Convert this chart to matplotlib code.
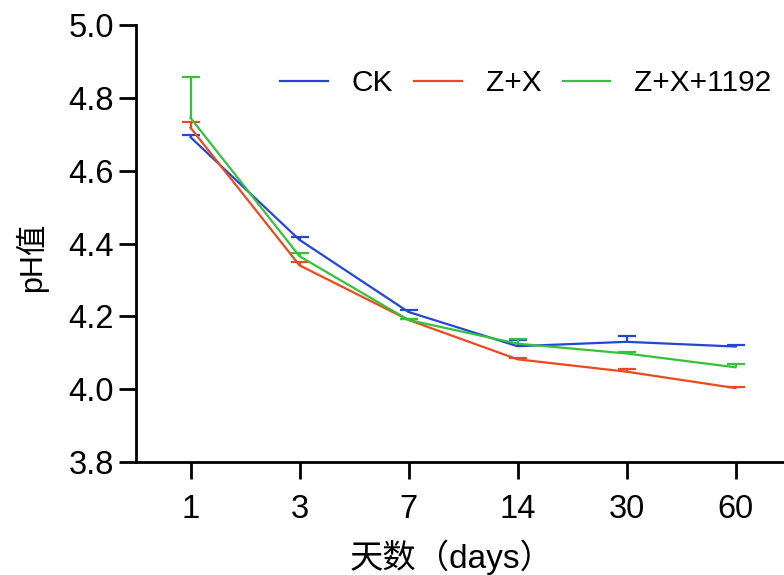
import numpy as np
import matplotlib as mpl
mpl.use('Agg')
from matplotlib import pyplot as plt

days = ['1', '3', '7', '14', '30', '60']
ck = [4.692, 4.410, 4.212, 4.118, 4.130, 4.117]
ck_err = [0.006, 0.007, 0.005, 0.018, 0.016, 0.004]
zx = [4.718, 4.340, 4.190, 4.082, 4.048, 4.003]
zx_err = [0.016, 0.008, 0.004, 0.004, 0.007, 0.004]
zx1192 = [4.745, 4.365, 4.190, 4.125, 4.098, 4.060]
zx1192_err = [0.112, 0.008, 0.004, 0.012, 0.003, 0.008]

mpl.rcParams['font.family'] = ['Liberation Sans', 'Noto Sans CJK SC', 'DejaVu Sans']

fig = plt.figure(figsize=(7.84, 5.75), dpi=100)
ax = fig.add_axes([136 / 784, 1 - 462 / 575, 654 / 784, 437 / 575])

x = np.arange(len(days))
series = [
	('CK', ck, ck_err, '#2446d6'),
	('Z+X', zx, zx_err, '#ea4a1e'),
	('Z+X+1192', zx1192, zx1192_err, '#36c238'),
]
for name, vals, errs, col in series:
	vals = np.array(vals)
	top = vals + np.array(errs)
	ax.plot(x, vals, color=col, lw=1.6, label=name)
	# only the upper half of each error bar, as in the source figure
	ax.vlines(x, vals, top, color=col, lw=1.6)
	ax.plot(x, top, ls='none', marker='_', ms=13, mew=1.6, color=col)

ax.set_xlim(-0.5, 5.5)
ax.set_ylim(3.8, 5.0)
ax.set_xticks(x)
ax.set_xticklabels(days)
ax.set_yticks(np.arange(3.8, 5.01, 0.2))
ax.yaxis.set_major_formatter(mpl.ticker.FormatStrFormatter('%.1f'))

for s in ['top', 'right']:
	ax.spines[s].set_visible(False)
for s in ['left', 'bottom']:
	ax.spines[s].set_linewidth(2)
ax.tick_params(axis='both', which='major', direction='out', length=12, width=2,
			   labelsize=23.5)
ax.tick_params(axis='y', pad=4)
ax.tick_params(axis='x', pad=11)

ax.set_ylabel('pH值', fontsize=22)
ax.yaxis.set_label_coords(-0.134, 0.469)
ax.set_xlabel('天数（days）', fontsize=24)
ax.xaxis.set_label_coords(0.482, -0.178)

ax.legend(loc='upper right', bbox_to_anchor=(1.012, 0.96), ncol=3, frameon=False,
		  fontsize=21.5, handlelength=1.6, columnspacing=0.72, handletextpad=0.78)

fig.savefig('out.png', dpi=100)
